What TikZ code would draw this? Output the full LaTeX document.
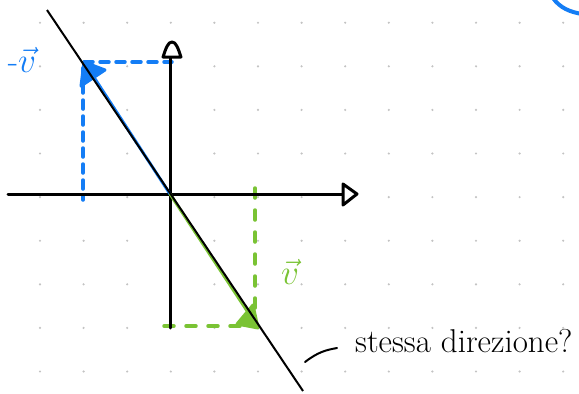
\documentclass[tikz,border=0pt]{standalone}
\usepackage{fontspec}
\usetikzlibrary{calc}
\definecolor{vblue}{RGB}{20,125,245}
\definecolor{vgreen}{RGB}{122,195,52}
\definecolor{griddot}{RGB}{195,195,195}
\tikzset{
  axisline/.style={line width=3pt, line cap=round, black},
  headtri/.style={line width=3pt, line join=round, black, fill=white},
  diagline/.style={line width=2pt, black},
  bluevec/.style={line width=3pt, vblue, line cap=round},
  greenvec/.style={line width=3pt, vgreen, line cap=round},
  bluedash/.style={line width=3.5pt, vblue, dash pattern=on 9pt off 7pt, line cap=round},
  greendash/.style={line width=3.5pt, vgreen, dash pattern=on 10pt off 12pt, line cap=round},
  lbl/.style={inner sep=0pt, font=\fontsize{33}{33}\selectfont},
  mlbl/.style={inner sep=0pt, font=\fontsize{20}{20}\selectfont, scale=1.7},
}
\begin{document}
\begin{tikzpicture}[x=1pt,y=-1pt]
\useasboundingbox (0,0) rectangle (579,394);
\clip (0,0) rectangle (579,394);
% dot grid
\foreach \i in {0,...,12}{
  \foreach \j in {0,...,8}{
    \fill[griddot] ({40+43.6*\i},{22.7+43.6*\j}) circle (1.2pt);
  }
}
% key points
\coordinate (O) at (170,194);
\coordinate (xl) at (8,194);
\coordinate (xr) at (343,194);
\coordinate (yt) at (170,58);
\coordinate (yb) at (170,328);
\coordinate (dA) at (47,10);
\coordinate (dB) at (303,391);
\coordinate (B) at (84,62);
\coordinate (G) at (257,326);
\coordinate (lead0) at (305,362);
\coordinate (lead1) at (337,348);
% blue vector (-v) dashed projections
\draw[bluedash] (B) -- (172,62);
\draw[bluedash] (83,68) -- (83,200);
% green vector (v) dashed projections
\draw[greendash] (164,326) -- (G);
\draw[greendash] (255,188) -- (255,318);
% axes
\draw[axisline] (xl) -- (xr);
\draw[axisline] (yb) -- (yt);
\draw[headtri] (343,184) -- (357,194) -- (343,205) -- cycle;
\draw[headtri] (163,57) -- (181,57) .. controls (178,48) and (176,42) .. (172,42) .. controls (168,42) and (166,48) .. cycle;
% vectors
\draw[bluevec] (O) -- (B);
\draw[bluevec, fill=vblue, line join=round] (B) -- (105,70) -- (81,86) -- cycle;
\draw[greenvec] (O) -- (G);
\draw[greenvec, fill=vgreen, line join=round] (258,328) -- (253,305) -- (237,324) -- cycle;
% diagonal line through the origin
\draw[diagline] (dA) -- (dB);
% labels
\node[mlbl, text=vblue] (lmv) at (22,60) {-$\vec{v}$};
\node[mlbl, text=vgreen] (lv) at (290,272) {$\vec{v}$};
\node[lbl, anchor=base west] (txt) at (355,352) {stessa direzione?};
\draw[line width=2pt, line cap=round] (lead0) .. controls (318,352) and (326,350) .. (lead1);
% blue arc top right
\draw[line width=4pt, vblue, line cap=round] (553,-2) .. controls (560,8) and (570,12) .. (582,14);
\end{tikzpicture}
\end{document}
